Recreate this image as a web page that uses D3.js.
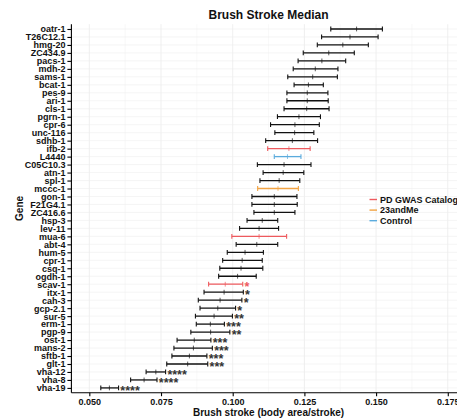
<!DOCTYPE html>
<html>
<head>
<meta charset="utf-8">
<script src="https://cdn.jsdelivr.net/npm/d3@7"></script>
<style>
  html, body { margin: 0; padding: 0; background: #fff; }
  svg { display: block; font-family: "Liberation Sans", Arial, Helvetica, sans-serif; }
</style>
</head>
<body>
<svg id="chart" width="457" height="419"></svg>
<script>
// Genes, ordered top to bottom
const genes = ["oatr-1","T26C12.1","hmg-20","ZC434.9","pacs-1","mdh-2","sams-1","bcat-1","pes-9","ari-1",
  "cls-1","pgrn-1","cpr-6","unc-116","sdhb-1","ifb-2","L4440","C05C10.3","atn-1","spl-1",
  "mccc-1","gon-1","F21G4.1","ZC416.6","hsp-3","lev-11","mua-6","abt-4","hum-5","cpr-1",
  "csq-1","ogdh-1","scav-1","itx-1","cah-3","gcp-2.1","sur-5","erm-1","pgp-9","ost-1",
  "mans-2","sftb-1","glt-1","vha-12","vha-8","vha-19"];

// Brush stroke (body area / stroke): lower bound, median, upper bound
const lower = [0.1342,0.1310,0.1295,0.1246,0.1228,0.1211,0.1192,0.1214,0.1189,0.1189,
  0.1179,0.1156,0.1132,0.1147,0.1115,0.1122,0.1145,0.1086,0.1106,0.1095,
  0.1087,0.1067,0.1067,0.1074,0.1050,0.1024,0.0997,0.1012,0.0981,0.0965,
  0.0955,0.0951,0.0916,0.0900,0.0880,0.0886,0.0870,0.0873,0.0854,0.0806,
  0.0795,0.0788,0.0770,0.0698,0.0644,0.0540];
const median = [0.1432,0.1409,0.1384,0.1335,0.1311,0.1288,0.1279,0.1264,0.1260,0.1260,
  0.1258,0.1231,0.1217,0.1216,0.1208,0.1196,0.1191,0.1179,0.1176,0.1162,
  0.1158,0.1145,0.1145,0.1145,0.1103,0.1092,0.1092,0.1084,0.1043,0.1033,
  0.1029,0.1017,0.0974,0.0970,0.0956,0.0948,0.0935,0.0922,0.0923,0.0866,
  0.0863,0.0849,0.0843,0.0732,0.0691,0.0570];
const upper = [0.1522,0.1507,0.1473,0.1424,0.1394,0.1367,0.1365,0.1316,0.1332,0.1333,
  0.1336,0.1306,0.1302,0.1283,0.1296,0.1270,0.1238,0.1273,0.1248,0.1234,
  0.1229,0.1224,0.1225,0.1217,0.1157,0.1160,0.1188,0.1157,0.1107,0.1103,
  0.1105,0.1082,0.1035,0.1037,0.1032,0.1010,0.0999,0.0971,0.0990,0.0924,
  0.0929,0.0910,0.0913,0.0766,0.0736,0.0602];

// Gene source category ("" = screened gene without a source label)
const category = ["","","","","","","","","","",
  "","","","","","PD GWAS Catalog","Control","","","",
  "23andMe","","","","","","PD GWAS Catalog","","","",
  "","","PD GWAS Catalog","","","","","","","",
  "","","","","",""];

// Significance versus control
const signif = ["","","","","","","","","","",
  "","","","","","","","","","",
  "","","","","","","","","","",
  "","","*","*","*","*","**","***","**","***",
  "***","***","***","****","****","****"];

const legendLabels = ["PD GWAS Catalog","23andMe","Control"];
const xTicks = [0.050,0.075,0.100,0.125,0.150,0.175];
const xLimits = [0.05,0.175];

const colorOf = d3.scaleOrdinal()
  .domain(["", ...legendLabels])
  .range(["#111111","#EE5A5E","#F2A444","#5BABDD"]);

const svg = d3.select("#chart");
const panel = { left: 71.4, right: 465.7, top: 24.2, bottom: 392.7 };

// x limits with 5% expansion on each side
const span = xLimits[1] - xLimits[0];
const x = d3.scaleLinear()
  .domain([xLimits[0] - 0.05 * span, xLimits[1] + 0.05 * span])
  .range([panel.left, panel.right]);

const y = d3.scalePoint()
  .domain(genes)
  .range([panel.top, panel.bottom])
  .padding(0.6);

// Grid
const grid = svg.append("g");
const minor = d3.range(xTicks.length - 1).map(i => (xTicks[i] + xTicks[i + 1]) / 2);
grid.selectAll("line.minor").data(minor).join("line")
  .attr("x1", d => x(d)).attr("x2", d => x(d))
  .attr("y1", panel.top).attr("y2", panel.bottom)
  .attr("stroke", "#f3f3f3").attr("stroke-width", 0.6);
grid.selectAll("line.majorx").data(xTicks).join("line")
  .attr("x1", d => x(d)).attr("x2", d => x(d))
  .attr("y1", panel.top).attr("y2", panel.bottom)
  .attr("stroke", "#e8e8e8").attr("stroke-width", 0.7);
grid.selectAll("line.majory").data(genes).join("line")
  .attr("x1", panel.left).attr("x2", panel.right)
  .attr("y1", d => y(d)).attr("y2", d => y(d))
  .attr("stroke", "#eeeeee").attr("stroke-width", 0.6);

// Error bars
const rows = genes.map((g, i) => ({
  gene: g, lo: lower[i], med: median[i], hi: upper[i], cat: category[i], sig: signif[i]
}));
const bars = svg.append("g").selectAll("g").data(rows).join("g")
  .attr("stroke", d => colorOf(d.cat));
bars.append("line")
  .attr("x1", d => x(d.lo)).attr("x2", d => x(d.hi))
  .attr("y1", d => y(d.gene)).attr("y2", d => y(d.gene))
  .attr("stroke-width", 1.3);
bars.append("line")
  .attr("x1", d => x(d.lo)).attr("x2", d => x(d.lo))
  .attr("y1", d => y(d.gene) - 2.4).attr("y2", d => y(d.gene) + 2.4)
  .attr("stroke-width", 1.1);
bars.append("line")
  .attr("x1", d => x(d.hi)).attr("x2", d => x(d.hi))
  .attr("y1", d => y(d.gene) - 2.4).attr("y2", d => y(d.gene) + 2.4)
  .attr("stroke-width", 1.1);
bars.append("line")
  .attr("x1", d => x(d.med)).attr("x2", d => x(d.med))
  .attr("y1", d => y(d.gene) - 2.4).attr("y2", d => y(d.gene) + 2.4)
  .attr("stroke-width", 0.7);

// Significance stars
svg.append("g").selectAll("text").data(rows.filter(d => d.sig)).join("text")
  .attr("x", d => x(d.hi) + 1.8)
  .attr("y", d => y(d.gene) + 6.6)
  .attr("font-size", 12.5)
  .attr("font-weight", "bold")
  .attr("fill", d => d.cat ? colorOf(d.cat) : "#333333")
  .text(d => d.sig);

// Axes
const yAxis = svg.append("g")
  .attr("transform", `translate(${panel.left},0)`)
  .call(d3.axisLeft(y).tickSize(4).tickPadding(2).tickSizeOuter(0));
const xAxis = svg.append("g")
  .attr("transform", `translate(0,${panel.bottom})`)
  .call(d3.axisBottom(x).tickValues(xTicks).tickFormat(d3.format(".3f"))
    .tickSize(3.5).tickPadding(2).tickSizeOuter(0));
[yAxis, xAxis].forEach(a => {
  a.select(".domain").attr("stroke", "#000").attr("stroke-width", 1.1);
  a.selectAll(".tick line").attr("stroke", "#000").attr("stroke-width", 1.1);
  a.selectAll(".tick text").attr("fill", "#111").attr("font-size", 9)
    .attr("font-weight", "bold").attr("font-family", "Liberation Sans, Arial, sans-serif");
});
yAxis.select(".domain").attr("d", `M0,${panel.top}V${panel.bottom}`);
xAxis.select(".domain").attr("d", `M${panel.left},0H${panel.right}`);

// Titles
const mid = (panel.left + panel.right) / 2;
svg.append("text").attr("x", mid).attr("y", 19.3)
  .attr("text-anchor", "middle").attr("font-size", 12).attr("font-weight", "bold")
  .attr("fill", "#111").text("Brush Stroke Median");
svg.append("text").attr("x", mid).attr("y", 416)
  .attr("text-anchor", "middle").attr("font-size", 10).attr("font-weight", "bold")
  .attr("fill", "#111").text("Brush stroke (body area/stroke)");
svg.append("text")
  .attr("transform", `translate(22.5,${(panel.top + panel.bottom) / 2}) rotate(-90)`)
  .attr("text-anchor", "middle").attr("font-size", 10).attr("font-weight", "bold")
  .attr("fill", "#111").text("Gene");

// Legend
const legend = svg.append("g").attr("transform", "translate(369.5,199.5)");
const items = legend.selectAll("g").data(legendLabels).join("g")
  .attr("transform", (d, i) => `translate(0,${i * 10.6})`);
items.append("line").attr("x1", 0).attr("x2", 7.5).attr("y1", 0).attr("y2", 0)
  .attr("stroke", d => colorOf(d)).attr("stroke-width", 1.4);
items.append("text").attr("x", 10.5).attr("y", 3.2)
  .attr("font-size", 9).attr("font-weight", "bold").attr("fill", "#111")
  .text(d => d);
</script>
</body>
</html>
